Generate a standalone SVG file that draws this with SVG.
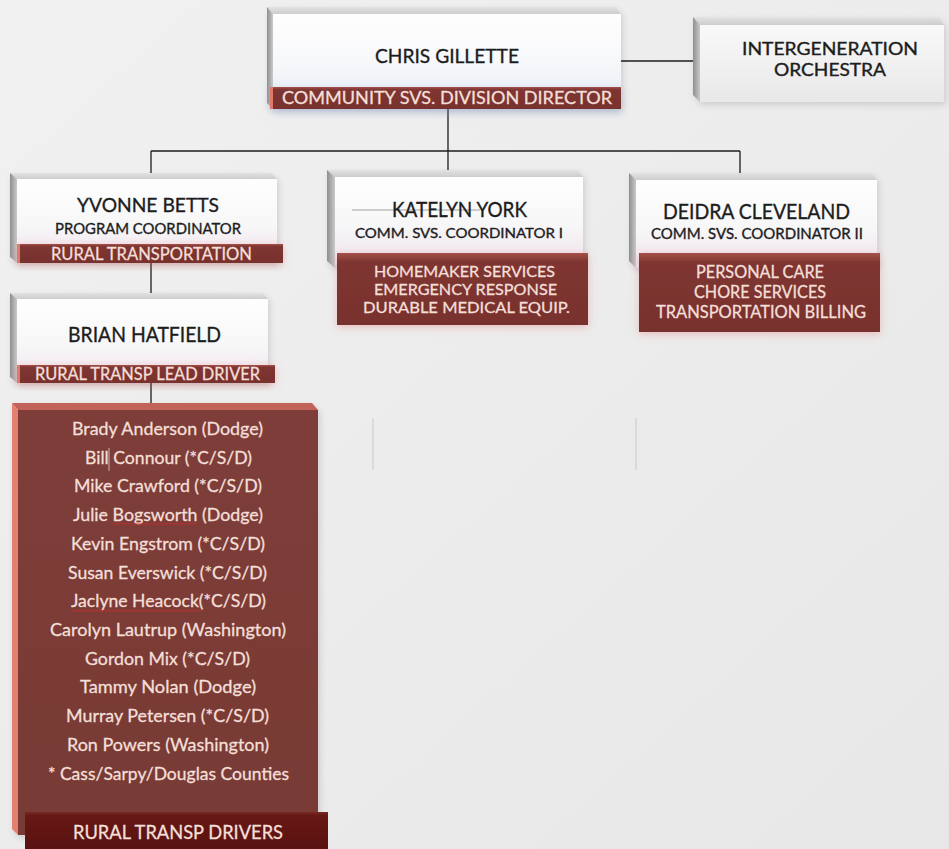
<svg xmlns="http://www.w3.org/2000/svg" width="949" height="849" viewBox="0 0 949 849">
<defs>
<linearGradient id="bg" x1="0" y1="0" x2="1" y2="1"><stop offset="0" stop-color="#f1f1f1"/><stop offset="1" stop-color="#e7e7e7"/></linearGradient>
<linearGradient id="tb" x1="0" y1="0" x2="0" y2="1"><stop offset="0" stop-color="#e2e2e2"/><stop offset="1" stop-color="#cdcdcd"/></linearGradient>
<linearGradient id="lb" x1="0" y1="0" x2="1" y2="0"><stop offset="0" stop-color="#8f8f8f"/><stop offset="1" stop-color="#c9c9c9"/></linearGradient>
<linearGradient id="faceB" x1="0" y1="0" x2="0" y2="1"><stop offset="0" stop-color="#fefefe"/><stop offset="0.5" stop-color="#f7f8fa"/><stop offset="1" stop-color="#e4ebf6"/></linearGradient>
<linearGradient id="faceP" x1="0" y1="0" x2="0" y2="1"><stop offset="0" stop-color="#fefefe"/><stop offset="0.55" stop-color="#f7f7f8"/><stop offset="1" stop-color="#efe2ec"/></linearGradient>
<linearGradient id="faceG" x1="0" y1="0" x2="0" y2="1"><stop offset="0" stop-color="#f9f9f9"/><stop offset="1" stop-color="#e8e8e8"/></linearGradient>
<linearGradient id="red" x1="0" y1="0" x2="0" y2="1"><stop offset="0" stop-color="#a5524a"/><stop offset="0.12" stop-color="#7f3631"/><stop offset="1" stop-color="#78312d"/></linearGradient>
<linearGradient id="redBox" x1="0" y1="0" x2="0" y2="1"><stop offset="0" stop-color="#7e3d38"/><stop offset="1" stop-color="#783a35"/></linearGradient>
<linearGradient id="darkBar" x1="0" y1="0" x2="0" y2="1"><stop offset="0" stop-color="#7a2a25"/><stop offset="0.1" stop-color="#661815"/><stop offset="1" stop-color="#5a1210"/></linearGradient>
<filter id="sh" x="-10%" y="-20%" width="125%" height="150%"><feDropShadow dx="2" dy="3" stdDeviation="3" flood-color="#000" flood-opacity="0.13"/></filter>
<filter id="glowR" x="-10%" y="-30%" width="120%" height="170%"><feDropShadow dx="0" dy="2" stdDeviation="4" flood-color="#e06060" flood-opacity="0.35"/></filter>
<filter id="glowB" x="-10%" y="-50%" width="120%" height="220%"><feDropShadow dx="0" dy="3" stdDeviation="5" flood-color="#7f9ad6" flood-opacity="0.4"/></filter>
<pattern id="wavy" width="4" height="3" patternUnits="userSpaceOnUse"><polyline points="0,0.5 2,2.5 4,0.5" fill="none" stroke="#d42a2a" stroke-width="0.9"/></pattern>
<style>
.t{font-family:Lato,"Liberation Sans",Arial,sans-serif;text-anchor:middle}
.k{fill:#1d1d1d;stroke:#1d1d1d;stroke-width:0.35}
.w{fill:#f4dfd8;stroke:#f4dfd8;stroke-width:0.3}
.tb{fill:url(#tb)}
.lb{fill:url(#lb)}
.bar{fill:url(#red)}
.sal{fill:#df7a6b}
.conn line{stroke:#1d1d1d;stroke-width:1.3}
</style>
</defs>
<rect width="949" height="849" fill="url(#bg)"/>

<g id="connectors" class="conn">
<line x1="621" y1="61" x2="693" y2="61"/>
<line x1="448" y1="109" x2="448" y2="171"/>
<line x1="151" y1="151" x2="740" y2="151"/>
<line x1="151" y1="151" x2="151" y2="173"/>
<line x1="740" y1="151" x2="740" y2="173"/>
<line x1="151" y1="263" x2="151" y2="293"/>
<line x1="151" y1="383" x2="151" y2="411"/>
</g>

<g id="n-chris">
<g filter="url(#sh)">
<polygon class="tb" points="267,7 616,7 621,14 273,14"/>
<polygon class="lb" points="267,7 273,14 273,109 267,103"/>
<rect x="273" y="14" width="348" height="95" fill="url(#faceB)"/>
</g>
<g filter="url(#glowB)">
<rect class="bar" x="273" y="87" width="348" height="22"/>
<rect class="sal" x="270" y="87" width="3" height="22"/>
</g>
<text class="t k" x="447" y="63" font-size="20" textLength="144" lengthAdjust="spacingAndGlyphs">CHRIS GILLETTE</text>
<text class="t w" x="447" y="104" font-size="18" textLength="330" lengthAdjust="spacingAndGlyphs">COMMUNITY SVS. DIVISION DIRECTOR</text>
</g>

<g id="n-orchestra">
<g filter="url(#sh)">
<polygon class="tb" points="693,17 939,17 944,25 700,25"/>
<polygon class="lb" points="693,17 700,25 700,102 693,95"/>
<rect x="700" y="25" width="244" height="77" fill="url(#faceG)"/>
</g>
<text class="t k" x="830" y="55" font-size="17" textLength="176" lengthAdjust="spacingAndGlyphs">INTERGENERATION</text>
<text class="t k" x="830" y="76" font-size="17" textLength="112" lengthAdjust="spacingAndGlyphs">ORCHESTRA</text>
</g>

<g id="n-yvonne">
<g filter="url(#sh)">
<polygon class="tb" points="10,173 272,173 277,179 17,179"/>
<polygon class="lb" points="10,173 17,179 17,263 10,257"/>
<rect x="17" y="179" width="260" height="84" fill="url(#faceP)"/>
</g>
<g filter="url(#glowR)">
<rect class="bar" x="19" y="244" width="264" height="19"/>
<rect class="sal" x="17" y="244" width="3" height="19"/>
</g>
<text class="t k" x="148" y="212" font-size="20" textLength="142" lengthAdjust="spacingAndGlyphs">YVONNE BETTS</text>
<text class="t k" x="148" y="234" font-size="15" textLength="186" lengthAdjust="spacingAndGlyphs">PROGRAM COORDINATOR</text>
<text class="t w" x="151.5" y="260" font-size="18" textLength="201" lengthAdjust="spacingAndGlyphs">RURAL TRANSPORTATION</text>
</g>

<g id="n-brian">
<g filter="url(#sh)">
<polygon class="tb" points="10,293 263,293 268,299 17,299"/>
<polygon class="lb" points="10,293 17,299 17,383 10,377"/>
<rect x="17" y="299" width="251" height="84" fill="url(#faceP)"/>
</g>
<g filter="url(#glowR)">
<rect class="bar" x="19" y="365" width="256" height="18"/>
<rect class="sal" x="17" y="365" width="3" height="18"/>
</g>
<text class="t k" x="144.5" y="342" font-size="21" textLength="153" lengthAdjust="spacingAndGlyphs">BRIAN HATFIELD</text>
<text class="t w" x="147.5" y="380" font-size="17.5" textLength="225" lengthAdjust="spacingAndGlyphs">RURAL TRANSP LEAD DRIVER</text>
</g>

<g id="n-katelyn">
<g filter="url(#sh)">
<polygon class="tb" points="327,170 578,170 583,177 335,177"/>
<polygon class="lb" points="327,170 335,177 335,268 327,261"/>
<rect x="335" y="177" width="248" height="88" fill="url(#faceP)"/>
</g>
<line x1="352" y1="210" x2="480" y2="210" stroke="#8a8a8a" stroke-width="0.8"/>
<g filter="url(#glowR)">
<rect class="bar" x="337" y="253" width="251" height="72"/>
</g>
<text class="t k" x="459.5" y="217" font-size="20.5" textLength="135" lengthAdjust="spacingAndGlyphs">KATELYN YORK</text>
<text class="t k" x="459" y="238" font-size="14" textLength="208" lengthAdjust="spacingAndGlyphs">COMM. SVS. COORDINATOR I</text>
<text class="t w" x="464.5" y="277" font-size="15.5" textLength="181" lengthAdjust="spacingAndGlyphs">HOMEMAKER SERVICES</text>
<text class="t w" x="465.5" y="295" font-size="15.5" textLength="183" lengthAdjust="spacingAndGlyphs">EMERGENCY RESPONSE</text>
<text class="t w" x="466.5" y="313" font-size="15.5" textLength="207" lengthAdjust="spacingAndGlyphs">DURABLE MEDICAL EQUIP.</text>
</g>

<g id="n-deidra">
<g filter="url(#sh)">
<polygon class="tb" points="629,173 872,173 877,180 636,180"/>
<polygon class="lb" points="629,173 636,180 636,268 629,261"/>
<rect x="636" y="180" width="241" height="88" fill="url(#faceP)"/>
</g>
<g filter="url(#glowR)">
<rect class="bar" x="639" y="253" width="241" height="79"/>
</g>
<text class="t k" x="756.5" y="219" font-size="21" textLength="187" lengthAdjust="spacingAndGlyphs">DEIDRA CLEVELAND</text>
<text class="t k" x="757" y="239" font-size="15" textLength="212" lengthAdjust="spacingAndGlyphs">COMM. SVS. COORDINATOR II</text>
<text class="t w" x="760" y="278" font-size="17" textLength="128" lengthAdjust="spacingAndGlyphs">PERSONAL CARE</text>
<text class="t w" x="760" y="298" font-size="17" textLength="132" lengthAdjust="spacingAndGlyphs">CHORE SERVICES</text>
<text class="t w" x="761" y="318" font-size="17" textLength="210" lengthAdjust="spacingAndGlyphs">TRANSPORTATION BILLING</text>
</g>

<g id="n-drivers">
<g filter="url(#sh)">
<polygon fill="#c2635a" points="12,403 312,403 318,410 18,410"/>
<polygon fill="#e57f6f" points="12,403 18,410 18,835 12,829"/>
<rect x="18" y="410" width="300" height="425" fill="url(#redBox)"/>
</g>
<line x1="109" y1="448" x2="109" y2="471" stroke="#c4b4b0" stroke-width="1"/>
<g class="t w" font-size="18">
<text x="167.5" y="435" textLength="191" lengthAdjust="spacingAndGlyphs">Brady Anderson (Dodge)</text>
<text x="168.5" y="463.7" textLength="167" lengthAdjust="spacingAndGlyphs">Bill Connour (*C/S/D)</text>
<text x="168" y="492.4" textLength="188" lengthAdjust="spacingAndGlyphs">Mike Crawford (*C/S/D)</text>
<text x="168" y="521" textLength="190" lengthAdjust="spacingAndGlyphs">Julie Bogsworth (Dodge)</text>
<text x="168" y="549.8" textLength="194" lengthAdjust="spacingAndGlyphs">Kevin Engstrom (*C/S/D)</text>
<text x="167.5" y="578.5" textLength="199" lengthAdjust="spacingAndGlyphs">Susan Everswick (*C/S/D)</text>
<text x="168.5" y="607.2" textLength="195" lengthAdjust="spacingAndGlyphs">Jaclyne Heacock(*C/S/D)</text>
<text x="168" y="636" textLength="236" lengthAdjust="spacingAndGlyphs">Carolyn Lautrup (Washington)</text>
<text x="167.5" y="664.7" textLength="165" lengthAdjust="spacingAndGlyphs">Gordon Mix (*C/S/D)</text>
<text x="168" y="693.4" textLength="176" lengthAdjust="spacingAndGlyphs">Tammy Nolan (Dodge)</text>
<text x="167.5" y="722" textLength="203" lengthAdjust="spacingAndGlyphs">Murray Petersen (*C/S/D)</text>
<text x="168" y="750.8" textLength="202" lengthAdjust="spacingAndGlyphs">Ron Powers (Washington)</text>
<text x="168.5" y="779.5" textLength="241" lengthAdjust="spacingAndGlyphs">* Cass/Sarpy/Douglas Counties</text>
</g>
<rect x="112" y="523" width="85" height="3" fill="url(#wavy)"/>
<rect x="71" y="609" width="131" height="3" fill="url(#wavy)"/>
<rect x="25" y="812" width="303" height="37" fill="url(#darkBar)"/>
<text class="t w" x="178" y="839" font-size="19.5" textLength="210" lengthAdjust="spacingAndGlyphs">RURAL TRANSP DRIVERS</text>
</g>

<g id="faint-marks" stroke="#d5d5d5" stroke-width="1.5">
<line x1="373" y1="418" x2="373" y2="470"/>
<line x1="636" y1="418" x2="636" y2="470"/>
</g>
</svg>
